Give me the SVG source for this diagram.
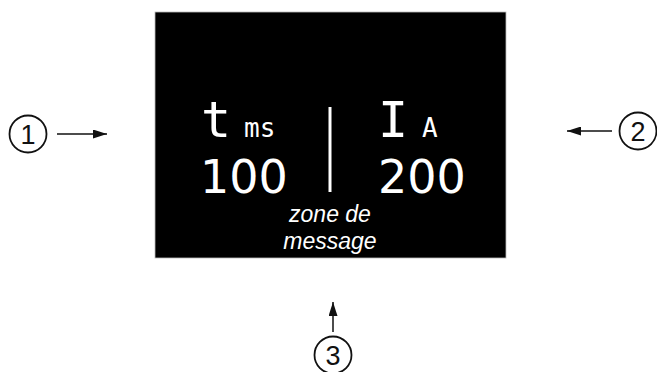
<svg xmlns="http://www.w3.org/2000/svg" width="657" height="372" viewBox="0 0 657 372">
<defs>
<style>
.mono{font-family:"DejaVu Sans Mono",monospace;fill:#fff}
.num{font-family:"DejaVu Sans",sans-serif;fill:#fff}
.msg{font-family:"Liberation Sans",Arial,sans-serif;font-style:italic;fill:#fff;font-size:23px;text-anchor:middle}
.circ{fill:none;stroke:#111;stroke-width:1.8}
.lbl{font-family:"Liberation Sans",Arial,sans-serif;font-size:27px;fill:#111;text-anchor:middle}
.conn{stroke:#111;stroke-width:1.5;fill:none;marker-end:url(#ah)}
</style>
<marker id="ah" viewBox="0 0 14 9" refX="14" refY="4.5" markerWidth="14" markerHeight="9" markerUnits="userSpaceOnUse" orient="auto">
<path d="M0,0 L14,4.5 L0,9 z" fill="#111"/>
</marker>
</defs>
<g id="display">
<rect x="155" y="12" width="351" height="246" fill="#000" stroke="#bbb" stroke-width="0.8"/>
<text class="mono" x="201" y="137" font-size="50">t</text>
<text class="mono" x="244" y="137" font-size="26">ms</text>
<text class="num" x="200" y="193" font-size="46">100</text>
<line x1="330" y1="107" x2="330" y2="192" stroke="#fff" stroke-width="3"/>
<text class="mono" x="378" y="137" font-size="50">I</text>
<text class="mono" x="422" y="137" font-size="26">A</text>
<text class="num" x="378" y="193" font-size="46">200</text>
<text class="msg" x="330" y="222">zone de</text>
<text class="msg" x="330" y="249">message</text>
</g>
<g id="n1">
<circle class="circ" cx="28" cy="134" r="18.5"/>
<text class="lbl" x="28" y="143.5">1</text>
</g>
<g id="n2">
<circle class="circ" cx="638" cy="131" r="18.5"/>
<text class="lbl" x="638" y="140.5">2</text>
</g>
<g id="n3">
<circle class="circ" cx="333" cy="355" r="18.5"/>
<text class="lbl" x="333" y="364.5">3</text>
</g>
<g id="connectors">
<line class="conn" x1="57" y1="134" x2="107" y2="134"/>
<line class="conn" x1="612" y1="131" x2="567" y2="131"/>
<line class="conn" x1="333" y1="332" x2="333" y2="302"/>
</g>
</svg>
